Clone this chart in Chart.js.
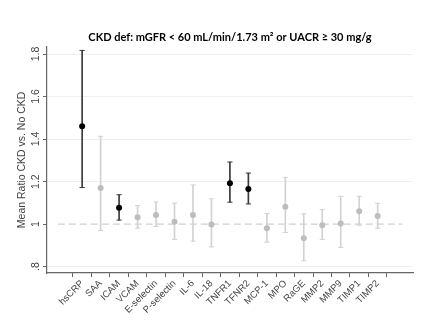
<!DOCTYPE html>
<html>
<head>
<meta charset="utf-8">
<script src="https://cdn.jsdelivr.net/npm/chart.js@4"></script>
<style>
  html, body { margin: 0; padding: 0; background: #fff; }
  #wrap { width: 430px; height: 323px; }
</style>
</head>
<body>
<div id="wrap"><canvas id="ratioChart" width="430" height="323"></canvas></div>
<script>
// Biomarkers, mean ratio CKD vs. no CKD with 95% CI
const markers = ['hsCRP', 'SAA', 'ICAM', 'VCAM', 'E-selectin', 'P-selectin', 'IL-6', 'IL-18', 'TNFR1',
  'TFNR2', 'MCP-1', 'MPO', 'RaGE', 'MMP2', 'MMP9', 'TIMP1', 'TIMP2'];
const ratio = [1.46, 1.17, 1.077, 1.032, 1.043, 1.011, 1.043, 0.998, 1.192, 1.165, 0.981, 1.082, 0.933, 0.995, 1.003, 1.061, 1.038];
const ciLow = [1.172, 0.97, 1.019, 0.981, 0.989, 0.928, 0.92, 0.893, 1.103, 1.095, 0.915, 0.96, 0.828, 0.928, 0.89, 0.995, 0.981];
const ciHigh = [1.817, 1.413, 1.138, 1.087, 1.104, 1.099, 1.184, 1.119, 1.292, 1.24, 1.05, 1.22, 1.048, 1.069, 1.131, 1.131, 1.098];
const significant = [true, false, true, false, false, false, false, false, true, true, false, false, false, false, false, false, false];
const yTicks = [0.8, 1, 1.2, 1.4, 1.6, 1.8];
const yTickLabels = ['.8', '1', '1.2', '1.4', '1.6', '1.8'];

const dotColor = significant.map(s => s ? '#000000' : '#bdbdbd');
const barColor = significant.map(s => s ? '#3a3a3a' : '#d2d2d2');

const idx = markers.map((m, i) => i);

// y tick labels and axis title are drawn turned on their side
const sideText = {
  id: 'sideText',
  afterDraw(chart) {
    const c = chart.ctx;
    const y = chart.scales.y;
    c.save();
    c.fillStyle = '#444';
    c.textAlign = 'center';
    c.textBaseline = 'middle';
    c.font = '10.5px "Liberation Sans", Arial, sans-serif';
    yTicks.forEach((v, i) => {
      c.save();
      c.translate(36, y.getPixelForValue(v));
      c.rotate(-Math.PI / 2);
      c.fillText(yTickLabels[i], 0, 0);
      c.restore();
    });
    c.translate(22, (chart.chartArea.top + chart.chartArea.bottom) / 2);
    c.rotate(-Math.PI / 2);
    c.fillText('Mean Ratio CKD vs. No CKD', 0, 0);
    c.restore();
  }
};

new Chart(document.getElementById('ratioChart'), {
  type: 'scatter',
  data: {
    datasets: [
      {
        // reference line at ratio 1
        type: 'line',
        data: [{ x: -1.32, y: 1 }, { x: 17.33, y: 1 }],
        borderColor: '#cfcfcf',
        borderWidth: 1.2,
        borderDash: [7, 4],
        pointRadius: 0,
        order: 5
      },
      {
        type: 'bar',
        data: idx.map(i => ({ x: i, y: [ciLow[i], ciHigh[i]] })),
        backgroundColor: barColor,
        barThickness: 1,
        order: 4
      },
      {
        // CI caps
        data: idx.flatMap(i => [{ x: i, y: ciLow[i] }, { x: i, y: ciHigh[i] }]),
        pointStyle: 'line',
        pointRadius: 2.6,
        borderWidth: 1,
        borderColor: idx.flatMap(i => [barColor[i], barColor[i]]),
        order: 3
      },
      {
        data: idx.map(i => ({ x: i, y: ratio[i] })),
        pointRadius: 3,
        pointBackgroundColor: dotColor,
        pointBorderColor: dotColor,
        borderWidth: 0,
        order: 1
      }
    ]
  },
  options: {
    responsive: false,
    animation: false,
    layout: { padding: { left: 0, right: 17, top: 0, bottom: 0 } },
    plugins: {
      legend: { display: false },
      tooltip: { enabled: false },
      title: {
        display: true,
        fullSize: false,
        text: 'CKD def: mGFR < 60 mL/min/1.73 m² or UACR ≥ 30 mg/g',
        color: '#000',
        font: { family: 'Lato, "Open Sans", sans-serif', size: 11, weight: 'bold' },
        padding: { top: 31, bottom: 2.6 }
      }
    },
    scales: {
      x: {
        type: 'linear',
        min: -1.32,
        max: 17.33,
        afterBuildTicks: s => { s.ticks = idx.map(i => ({ value: i })); },
        afterFit: s => { s.height = 50; s.paddingLeft = 0; s.paddingRight = 0; },
        ticks: {
          autoSkip: false,
          minRotation: 45,
          maxRotation: 45,
          padding: 1,
          color: '#444',
          font: { family: '"Liberation Sans", Arial, sans-serif', size: 9.5 },
          callback: v => markers[v]
        },
        grid: { drawOnChartArea: false, tickLength: 4, tickColor: '#666' },
        border: { color: '#666', width: 1.2 }
      },
      y: {
        min: 0.77,
        max: 1.834,
        afterBuildTicks: s => { s.ticks = yTicks.map(v => ({ value: v })); },
        afterFit: s => { s.width = 47; s.paddingTop = 0; s.paddingBottom = 0; },
        ticks: { display: false },
        grid: {
          color: c => c.tick && c.tick.value === 1 ? 'rgba(0,0,0,0)' : '#efefef',
          tickColor: '#666',
          tickLength: 4
        },
        border: { color: '#666', width: 1.2 }
      }
    }
  },
  plugins: [sideText]
});
</script>
</body>
</html>
